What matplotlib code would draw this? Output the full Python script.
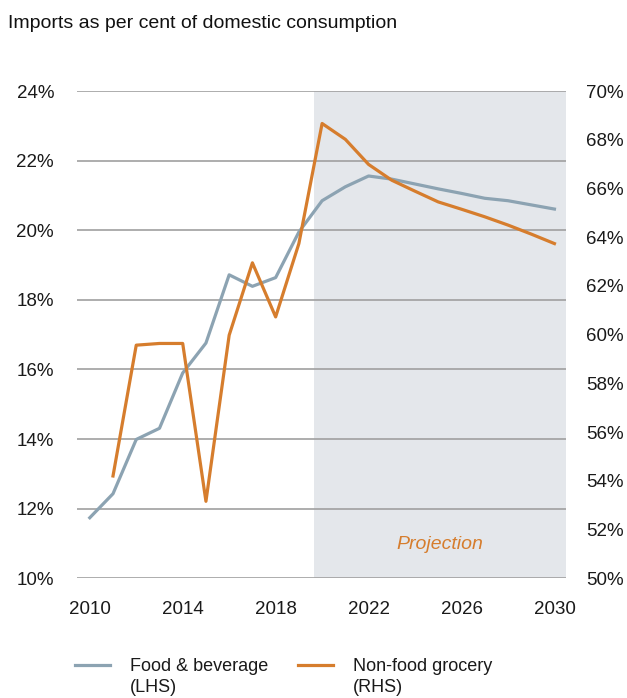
import matplotlib
matplotlib.use("Agg")
import matplotlib.pyplot as plt
from matplotlib.lines import Line2D
import numpy as np

plt.rcParams['font.family'] = ['Liberation Sans', 'DejaVu Sans']

years_food = [2010, 2011, 2012, 2013, 2014, 2015, 2016, 2017, 2018, 2019, 2020,
              2021, 2022, 2023, 2024, 2025, 2026, 2027, 2028, 2029, 2030]
food_bev = [11.74, 12.43, 13.99, 14.31, 15.90, 16.76, 18.72, 18.39, 18.64, 19.95, 20.85,
            21.25, 21.56, 21.47, 21.33, 21.19, 21.06, 20.92, 20.85, 20.73, 20.61]

years_nonfood = [2011, 2012, 2013, 2014, 2015, 2016, 2017, 2018, 2019, 2020,
                 2021, 2022, 2023, 2024, 2025, 2026, 2027, 2028, 2029, 2030]
non_food = [54.2, 59.57, 59.64, 59.64, 53.16, 59.98, 62.95, 60.73, 63.74, 68.67,
            68.02, 66.99, 66.34, 65.89, 65.45, 65.15, 64.84, 64.5, 64.13, 63.74]

left_ticks = [10, 12, 14, 16, 18, 20, 22, 24]
right_ticks = [50, 52, 54, 56, 58, 60, 62, 64, 66, 68, 70]
x_ticks = [2010, 2014, 2018, 2022, 2026, 2030]
proj_start = 2019.65

blue = '#8ca3b2'
orange = '#d67d2d'
grid_col = '#a0a0a0'

fig = plt.figure(figsize=(6.27, 6.98), dpi=100)
ax = fig.add_axes([0.1228, 0.1715, 0.78, 0.698])
ax2 = ax.twinx()

ax.set_xlim(2009.45, 2030.5)
ax.set_ylim(10, 24)
ax2.set_ylim(50, 70)

ax.axvspan(proj_start, 2030.5, color='#e4e7eb', zorder=0, lw=0)
for t in left_ticks:
    ax.axhline(t, color=grid_col, lw=1.2, zorder=1)

ax.plot(years_food, food_bev, color=blue, lw=2.3, zorder=3)
ax2.plot(years_nonfood, non_food, color=orange, lw=2.3, zorder=3)

ax.text(2025.05, 10.98, 'Projection', color=orange, style='italic', fontsize=14,
        ha='center', va='center')

ax.set_yticks(left_ticks)
ax.set_yticklabels([f'{t}%' for t in left_ticks])
ax2.set_yticks(right_ticks)
ax2.set_yticklabels([f'{t}%' for t in right_ticks])
ax.set_xticks(x_ticks)

for a in (ax, ax2):
    for s in a.spines.values():
        s.set_visible(False)
ax.tick_params(axis='both', length=0, labelsize=13.5, colors='#1a1a1a')
ax.tick_params(axis='y', pad=16.5)
ax.tick_params(axis='x', pad=16)
ax2.tick_params(axis='y', length=0, labelsize=13.5, pad=14.4, colors='#1a1a1a')

fig.text(0.013, 0.967, 'Imports as per cent of domestic consumption',
         fontsize=14, ha='left', va='center', color='#111111')

# legend, handle level with the first line of each label
legend_items = [(0.1196, blue, 'Food & beverage\n(LHS)'),
                (0.4753, orange, 'Non-food grocery\n(RHS)')]
for x0, col, lab in legend_items:
    fig.add_artist(Line2D([x0, x0 + 0.0558], [0.0473, 0.0473], color=col, lw=2.3,
                          transform=fig.transFigure))
    fig.text(x0 + 0.0877, 0.0301, lab, fontsize=13, ha='left', va='center',
             linespacing=1.3, color='#1a1a1a')

fig.savefig('out.png', dpi=100)
